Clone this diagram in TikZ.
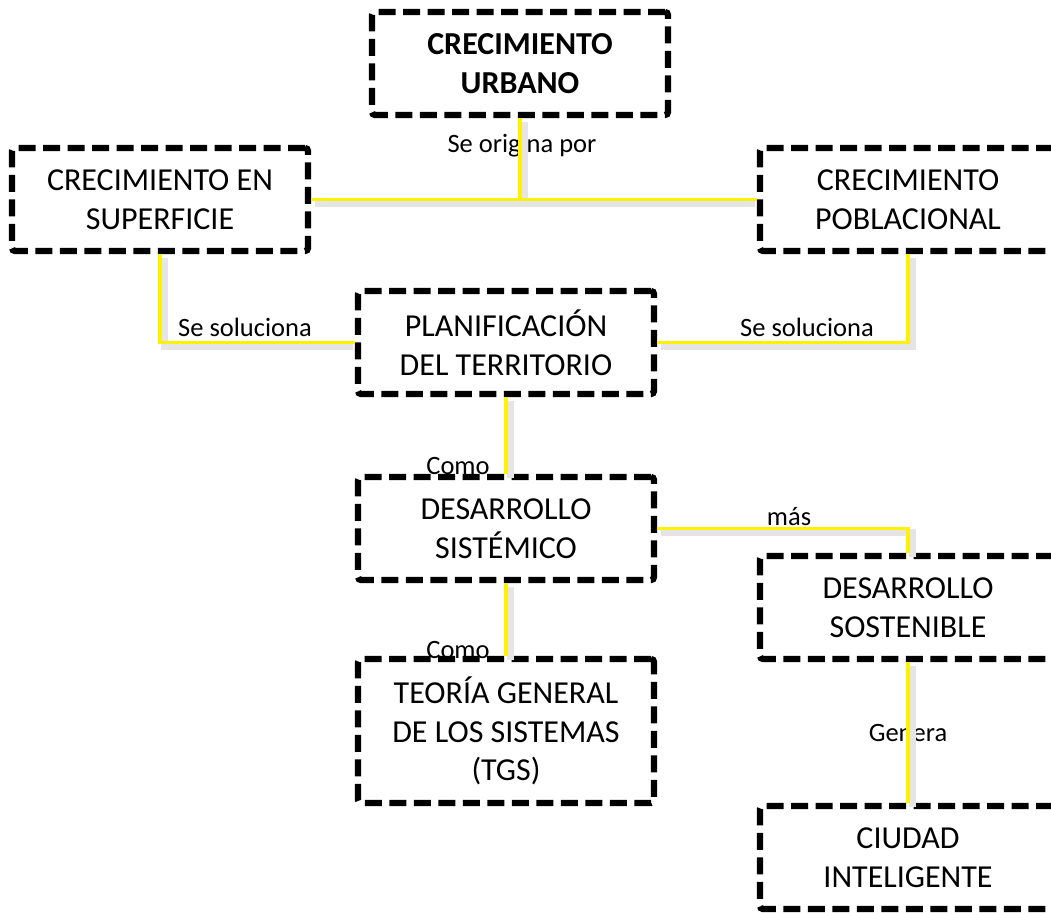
\documentclass[tikz,border=0pt]{standalone}
\usepackage{fontspec}
\setmainfont{Carlito}
\begin{document}
\begin{tikzpicture}[x=1pt,y=-1pt,
  box/.style={draw=black, line width=6.3pt, dash pattern=on 17pt off 7.5pt, rounded corners=3pt,
    minimum width=296pt, minimum height=103pt, align=center, inner sep=0pt,
    font=\fontsize{32}{38.5}\selectfont},
  lbl/.style={font=\fontsize{26.5}{30}\selectfont, inner sep=0pt},
  conn/.style={draw=yellow, line width=3.5pt},
  shad/.style={draw=black!10, line width=7pt, transform canvas={xshift=4pt,yshift=-4pt}}]
\useasboundingbox (0,0) rectangle (1051,912);
\clip (0,0) rectangle (1051,912);
% nodes (positions)
\node[box] (urb) at (520,63.5) {\textbf{CRECIMIENTO}\\\textbf{URBANO}};
\node[box] (sup) at (160,199.5) {CRECIMIENTO EN\\SUPERFICIE};
\node[box] (pob) at (908,199.5) {CRECIMIENTO\\POBLACIONAL};
\node[box] (plan) at (506,342.5) {PLANIFICACIÓN\\DEL TERRITORIO};
\node[box] (sis) at (506,528.5) {DESARROLLO\\SISTÉMICO};
\node[box, minimum height=144pt] (tgs) at (506,731) {TEORÍA GENERAL\\DE LOS SISTEMAS\\(TGS)};
\node[box] (sost) at (908,607.5) {DESARROLLO\\SOSTENIBLE};
\node[box] (ciud) at (908,857.5) {CIUDAD\\INTELIGENTE};
% labels
\node[lbl] (l1) at (522,146) {Se origina por};
\node[lbl] (l2) at (245,327) {Se soluciona};
\node[lbl] (l3) at (807,327) {Se soluciona};
\node[lbl] (l4) at (458,466) {Como};
\node[lbl] (l5) at (458,650) {Como};
\node[lbl] (l6) at (789,517) {más};
\node[lbl] (l7) at (908,733) {Genera};
% shadows
\path[shad] (urb.south) -- (urb.south |- sup.east);
\path[shad] (sup.east) -- ([xshift=-6pt]pob.west);
\path[shad] (sup.south) |- ([xshift=-6pt]plan.west);
\path[shad] (pob.south) |- (plan.east);
\path[shad] (plan.south) -- (sis.north);
\path[shad] (sis.south) -- (tgs.north);
\path[shad] (sis.east) -| (sost.north);
\path[shad] (sost.south) -- (ciud.north);
% connectors
\path[conn] (urb.south) -- (urb.south |- sup.east);
\path[conn] (sup.east) -- (pob.west);
\path[conn] (sup.south) |- (plan.west);
\path[conn] (pob.south) |- (plan.east);
\path[conn] (plan.south) -- (sis.north);
\path[conn] (sis.south) -- (tgs.north);
\path[conn] (sis.east) -| (sost.north);
\path[conn] (sost.south) -- (ciud.north);
\end{tikzpicture}
\end{document}
